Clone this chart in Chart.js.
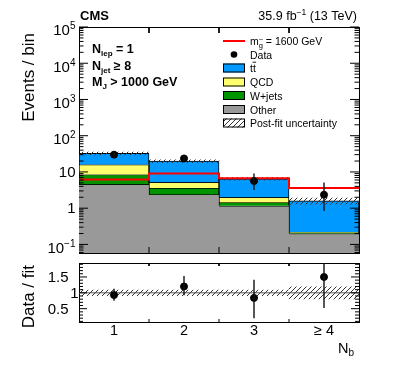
<!DOCTYPE html>
<html lang="en">
<head>
<meta charset="UTF-8">
<title>Events per N_b bin</title>
<script src="https://cdn.jsdelivr.net/npm/chart.js"></script>
<style>
  body { margin: 0; background: #fff; }
  .wrap { position: relative; width: 399px; height: 366px; }
  #mainChart { position: absolute; left: 0; top: 0; }
  #ratioChart { position: absolute; left: 0; top: 258px; }
</style>
</head>
<body>
<div class="wrap">
  <canvas id="mainChart" width="399" height="258"></canvas>
  <canvas id="ratioChart" width="399" height="108"></canvas>
</div>
<script>
// --- data ---
const bins = [1, 2, 3, 4];
const binLabels = ['1', '2', '3', '\u2265 4'];
const other = [4.55, 2.4, 1.17, 0.2];
const wjets = [3.95, 1.2, 0.27, 0.015];
const qcd = [7.5, 1.6, 0.56, 0.005];
const ttbar = [16.5, 14.6, 4.5, 1.38];
const signal = [6.2, 9.0, 6.7, 3.6];
const dataY = [30, 23.6, 5.6, 2.35];
const dataLo = [25, 19.5, 3.2, 0.83];
const dataHi = [35.5, 28.5, 9.0, 5.1];
const fitUnc = [0.09, 0.09, 0.09, 0.19];
const ratio = [0.93, 1.2, 0.84, 1.5];
const ratioLo = [0.75, 0.92, 0.2, 0.52];
const ratioHi = [1.13, 1.53, 1.41, 2.2];
const logTicks = [-1, 0, 1, 2, 3, 4, 5];
const ratioTicks = [0.5, 1, 1.5];

const Y_MIN = 0.058, Y_MAX = 1e5;
const R_MIN = 0.08, R_MAX = 1.94;
const FONT = '"Liberation Sans", Arial, sans-serif';

// hatch pattern for the uncertainty band
function hatch(color) {
  const c = document.createElement('canvas');
  c.width = 5; c.height = 5;
  const g = c.getContext('2d');
  g.strokeStyle = color;
  g.lineWidth = 1;
  g.beginPath();
  g.moveTo(0, 5); g.lineTo(5, 0);
  g.moveTo(-1, 1); g.lineTo(1, -1);
  g.moveTo(4, 6); g.lineTo(6, 4);
  g.stroke();
  return g.createPattern(c, 'repeat');
}
const hatchFill = hatch('#333');

function parts(ctx, list, x, y, align) {
  let w = 0;
  list.forEach(p => {
    ctx.font = (p.bold ? 'bold ' : '') + (p.size || 15) + 'px ' + FONT;
    p.w = ctx.measureText(p.t).width;
    w += p.w;
  });
  let cx = align === 'right' ? x - w : align === 'center' ? x - w / 2 : x;
  list.forEach(p => {
    ctx.font = (p.bold ? 'bold ' : '') + (p.size || 15) + 'px ' + FONT;
    ctx.fillText(p.t, cx, y + (p.dy || 0));
    p.x = cx;
    cx += p.w;
  });
  return w;
}

function seg(ctx, x1, y1, x2, y2) {
  ctx.beginPath();
  ctx.moveTo(x1, y1);
  ctx.lineTo(x2, y2);
  ctx.stroke();
}

function errorBars(chart, xs, lo, hi) {
  const ctx = chart.ctx, a = chart.chartArea;
  const xS = chart.scales.x, yS = chart.scales.y;
  ctx.save();
  ctx.beginPath();
  ctx.rect(a.left, a.top, a.right - a.left, a.bottom - a.top);
  ctx.clip();
  ctx.strokeStyle = '#111';
  ctx.lineWidth = 1.4;
  xs.forEach((x, i) => {
    const px = xS.getPixelForValue(x);
    seg(ctx, px, yS.getPixelForValue(lo[i]), px, yS.getPixelForValue(hi[i]));
  });
  ctx.restore();
}

// an axis that only draws its border line: four of them make the frame
function edgeScale(type, position, min, max, extra) {
  return Object.assign({
    type: type, position: position, min: min, max: max,
    display: true, offset: false,
    ticks: { display: false },
    grid: { display: false, drawTicks: false },
    border: { display: true, color: '#000', width: 1 }
  }, extra || {});
}

const binTicks = { afterBuildTicks: s => { s.ticks = bins.map(v => ({ value: v })); } };

const logTickList = [];
for (let d = -2; d <= 5; d++) {
  for (let k = 1; k <= 9; k++) {
    const v = k * Math.pow(10, d);
    if (v >= Y_MIN && v <= Y_MAX) logTickList.push([v, k === 1 ? 9 : 4.5]);
  }
}
const ratioTickList = [];
for (let v = 1; v <= 19; v++) {
  if (v / 10 >= R_MIN && v / 10 <= R_MAX) ratioTickList.push([v / 10, v % 5 === 0 ? 8 : 4]);
}

// inward tick marks as a line dataset, placed through the chart's scales
function addTickMarks(chart, yTicks, xTickLen) {
  const xS = chart.scales.x, yS = chart.scales.y;
  const l = xS.getPixelForValue(xS.min), r = xS.getPixelForValue(xS.max);
  const t = yS.getPixelForValue(yS.max), b = yS.getPixelForValue(yS.min);
  const pts = [];
  const gap = () => pts.push({ x: xS.min, y: null });
  yTicks.forEach(([v, len]) => {
    pts.push({ x: xS.min, y: v }, { x: xS.getValueForPixel(l + len), y: v }); gap();
    pts.push({ x: xS.getValueForPixel(r - len), y: v }, { x: xS.max, y: v }); gap();
  });
  bins.slice(1).forEach(bv => {
    pts.push({ x: bv - 0.5, y: yS.max }, { x: bv - 0.5, y: yS.getValueForPixel(t + xTickLen) }); gap();
    pts.push({ x: bv - 0.5, y: yS.min }, { x: bv - 0.5, y: yS.getValueForPixel(b - xTickLen) }); gap();
  });
  chart.data.datasets.push({
    type: 'line',
    data: pts,
    borderColor: '#000',
    borderWidth: 1,
    pointRadius: 0,
    spanGaps: false,
    fill: false,
    clip: false,
    order: -1
  });
  chart.update('none');
}

// --- main panel text ---
const mainDeco = {
  id: 'mainDeco',
  afterDraw(chart) {
    const ctx = chart.ctx;
    const yS = chart.scales.y;
    errorBars(chart, bins, dataLo, dataHi);

    ctx.save();
    ctx.fillStyle = '#000';
    ctx.textBaseline = 'alphabetic';
    logTicks.forEach(e => {
      const py = yS.getPixelForValue(Math.pow(10, e));
      if (e === 0) parts(ctx, [{ t: '1' }], 75.5, py + 5.3, 'right');
      else if (e === 1) parts(ctx, [{ t: '10' }], 75.5, py + 5.3, 'right');
      else parts(ctx, [{ t: '10' }, { t: e < 0 ? '\u2212' + (-e) : String(e), size: 10, dy: -6 }], 75.5, py + 8.4, 'right');
    });

    ctx.save();
    ctx.translate(34, 33);
    ctx.rotate(-Math.PI / 2);
    parts(ctx, [{ t: 'Events / bin', size: 17 }], 0, 0, 'right');
    ctx.restore();

    parts(ctx, [{ t: 'CMS', size: 13, bold: true }], 80, 19.5, 'left');
    parts(ctx, [{ t: '35.9 fb', size: 12.5 }, { t: '\u22121', size: 8.5, dy: -5 }, { t: ' (13 TeV)', size: 12.5 }], 357, 19.5, 'right');

    parts(ctx, [{ t: 'N', size: 12.5, bold: true }, { t: 'lep', size: 8, bold: true, dy: 2.5 }, { t: ' = 1', size: 12.5, bold: true }], 92, 53.3, 'left');
    parts(ctx, [{ t: 'N', size: 12.5, bold: true }, { t: 'jet', size: 8, bold: true, dy: 2.5 }, { t: ' \u2265 8', size: 12.5, bold: true }], 92, 70.3, 'left');
    parts(ctx, [{ t: 'M', size: 12.5, bold: true }, { t: 'J', size: 8, bold: true, dy: 2.5 }, { t: ' > 1000 GeV', size: 12.5, bold: true }], 92, 86, 'left');

    // legend
    const lx = 223, lw = 22, tx = 250, ls = 10.5;
    const rows = [41, 54.5, 68, 82, 95.5, 109.5, 123];
    ctx.strokeStyle = '#ff0000';
    ctx.lineWidth = 2;
    seg(ctx, lx, rows[0], lx + lw, rows[0]);
    const m = [{ t: 'm', size: ls }, { t: 'g', size: 7.5, dy: 2.5 }, { t: ' = 1600 GeV', size: ls }];
    parts(ctx, m, tx, rows[0] + 4, 'left');
    parts(ctx, [{ t: '~', size: 7.5 }], m[1].x + m[1].w / 2, rows[0] + 0.5, 'center');

    ctx.beginPath();
    ctx.arc(lx + lw / 2, rows[1], 3.3, 0, Math.PI * 2);
    ctx.fill();
    parts(ctx, [{ t: 'Data', size: ls }], tx, rows[1] + 4, 'left');

    const boxes = [
      ['#0099ff', null], ['#ffff6e', 'QCD'], ['#009400', 'W+jets'], ['#999999', 'Other'], [hatchFill, 'Post-fit uncertainty']
    ];
    ctx.lineWidth = 1;
    ctx.strokeStyle = '#000';
    boxes.forEach((bx, i) => {
      const cy = rows[i + 2];
      ctx.fillStyle = bx[0];
      ctx.fillRect(lx, cy - 4.5, lw, 9);
      ctx.strokeRect(lx + 0.5, cy - 4.5 + 0.5, lw - 1, 8);
      ctx.fillStyle = '#000';
      if (bx[1]) parts(ctx, [{ t: bx[1], size: ls }], tx, cy + 4, 'left');
    });
    const tt = [{ t: 't', size: ls }, { t: 't', size: ls }];
    parts(ctx, tt, tx, rows[2] + 4, 'left');
    ctx.lineWidth = 0.9;
    seg(ctx, tt[1].x - 0.3, rows[2] - 5.8, tt[1].x + tt[1].w + 0.3, rows[2] - 5.8);
    ctx.restore();
  }
};

// --- ratio panel text (canvas starts at page y = 258) ---
const RY = 258;
const ratioDeco = {
  id: 'ratioDeco',
  afterDraw(chart) {
    const ctx = chart.ctx;
    const xS = chart.scales.x, yS = chart.scales.y;
    errorBars(chart, bins, ratioLo, ratioHi);

    ctx.save();
    ctx.fillStyle = '#000';
    ratioTicks.forEach(v => {
      const py = yS.getPixelForValue(v);
      parts(ctx, [{ t: String(v) }], v === 1 ? 78.5 : 68.5, py + 5.3, 'right');
    });
    bins.forEach((bv, i) => {
      parts(ctx, [{ t: binLabels[i], size: 14.5 }], xS.getPixelForValue(bv), 335 - RY, 'center');
    });
    parts(ctx, [{ t: 'N', size: 14.5 }, { t: 'b', size: 10, dy: 3 }], 354, 353 - RY, 'right');

    ctx.save();
    ctx.translate(34, 265 - RY);
    ctx.rotate(-Math.PI / 2);
    parts(ctx, [{ t: 'Data / fit', size: 17 }], 0, 0, 'right');
    ctx.restore();
    ctx.restore();
  }
};

// --- main panel datasets ---
const layers = [
  { vals: other, color: '#999999' },
  { vals: wjets, color: '#009400' },
  { vals: qcd, color: '#ffff6e' },
  { vals: ttbar, color: '#0099ff' }
];
let cum = bins.map(() => 0);
const stackSets = layers.map((L, k) => {
  const lo = cum.map(c => Math.max(c, Y_MIN));
  cum = cum.map((c, i) => c + L.vals[i]);
  return {
    type: 'bar',
    data: bins.map((bv, i) => ({ x: bv, y: [lo[i], cum[i]] })),
    backgroundColor: L.color,
    borderColor: '#000',
    borderWidth: k === 0 ? { top: 1, left: 0, right: 0, bottom: 0 } : { top: 1, left: 1, right: 1, bottom: 0 },
    borderSkipped: false,
    grouped: false,
    barPercentage: 1,
    categoryPercentage: 1,
    clip: 0,
    order: 6 - k
  };
});
const total = cum;

const mainSets = [
  {
    type: 'scatter',
    data: bins.map((bv, i) => ({ x: bv, y: dataY[i] })),
    pointRadius: 3.5,
    pointBackgroundColor: '#000',
    pointBorderColor: '#000',
    pointBorderWidth: 1,
    showLine: false,
    clip: 0,
    order: 0
  },
  {
    type: 'line',
    data: bins.map((bv, i) => ({ x: bv - 0.5, y: signal[i] }))
      .concat([{ x: bins[bins.length - 1] + 0.5, y: signal[signal.length - 1] }]),
    borderColor: '#ff0000',
    borderWidth: 2,
    stepped: 'before',
    pointRadius: 0,
    fill: false,
    clip: 0,
    order: 1
  },
  {
    type: 'bar',
    data: bins.map((bv, i) => ({ x: bv, y: [total[i] * (1 - fitUnc[i]), total[i] * (1 + fitUnc[i])] })),
    backgroundColor: hatchFill,
    borderWidth: 0,
    grouped: false,
    barPercentage: 1,
    categoryPercentage: 1,
    clip: 0,
    order: 2
  }
].concat(stackSets);

function baseOptions(padding, yType, yMin, yMax) {
  return {
    responsive: false,
    animation: false,
    devicePixelRatio: 1,
    events: [],
    plugins: { legend: { display: false }, tooltip: { enabled: false } },
    layout: { padding: padding },
    scales: {
      x: edgeScale('linear', 'bottom', 0.5, 4.5, binTicks),
      x2: edgeScale('linear', 'top', 0.5, 4.5),
      y: edgeScale(yType, 'left', yMin, yMax),
      y2: edgeScale(yType, 'right', yMin, yMax)
    }
  };
}

const mainChart = new Chart(document.getElementById('mainChart'), {
  data: { datasets: mainSets },
  options: baseOptions({ left: 79, right: 40, top: 27, bottom: 5 }, 'logarithmic', Y_MIN, Y_MAX),
  plugins: [mainDeco]
});
addTickMarks(mainChart, logTickList, 6);

// --- ratio panel ---
const ratioChart = new Chart(document.getElementById('ratioChart'), {
  data: {
    datasets: [
      {
        type: 'scatter',
        data: bins.map((bv, i) => ({ x: bv, y: ratio[i] })),
        pointRadius: 3.5,
        pointBackgroundColor: '#000',
        pointBorderColor: '#000',
        pointBorderWidth: 1,
        clip: 0,
        order: 0
      },
      {
        type: 'line',
        data: [{ x: 0.5, y: 1 }, { x: 4.5, y: 1 }],
        borderColor: '#555',
        borderWidth: 1,
        pointRadius: 0,
        clip: 0,
        order: 1
      },
      {
        type: 'bar',
        data: bins.map((bv, i) => ({ x: bv, y: [1 - fitUnc[i], 1 + fitUnc[i]] })),
        backgroundColor: hatchFill,
        borderWidth: 0,
        grouped: false,
        barPercentage: 1,
        categoryPercentage: 1,
        clip: 0,
        order: 2
      }
    ]
  },
  options: baseOptions({ left: 79, right: 40, top: 2, bottom: 44 }, 'linear', R_MIN, R_MAX),
  plugins: [ratioDeco]
});
addTickMarks(ratioChart, ratioTickList, 3);
</script>
</body>
</html>
